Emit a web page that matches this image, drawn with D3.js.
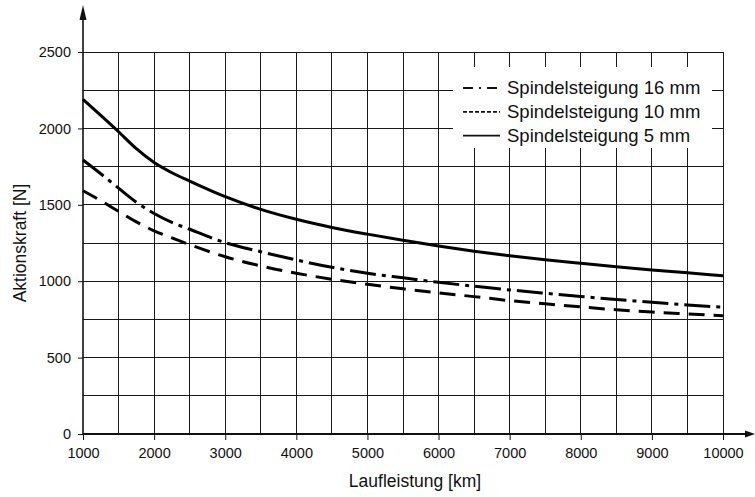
<!DOCTYPE html>
<html>
<head>
<meta charset="utf-8">
<script src="https://cdn.jsdelivr.net/npm/d3@7"></script>
<style>
  body { margin: 0; background: #fff; }
  text { font-family: "Liberation Sans", Arial, sans-serif; fill: #111; }
</style>
</head>
<body>
<svg id="chart" width="755" height="497"></svg>
<script>
// data
const laufleistung = [1000, 1250, 1500, 1750, 2000, 2250, 2500, 3000, 3500, 4000, 4500, 5000,
                      5500, 6000, 6500, 7000, 7500, 8000, 8500, 9000, 9500, 10000];
const kraft16mm = [1793, 1703, 1609, 1517, 1443, 1385, 1340, 1252, 1193, 1139, 1091, 1052,
                   1022, 993, 967, 943, 921, 900, 880, 862, 845, 829];
const kraft10mm = [1592, 1527, 1457, 1388, 1330, 1283, 1239, 1160, 1100, 1052, 1013, 980,
                   950, 923, 899, 873, 852, 832, 813, 798, 786, 774];
const kraft5mm = [2190, 2085, 1978, 1867, 1777, 1710, 1655, 1553, 1470, 1405, 1352, 1308,
                  1268, 1230, 1196, 1166, 1140, 1117, 1095, 1074, 1055, 1036];
const xTicks = [1000, 2000, 3000, 4000, 5000, 6000, 7000, 8000, 9000, 10000];
const yTicks = [0, 500, 1000, 1500, 2000, 2500];
const legendLabels = ["Spindelsteigung 16 mm", "Spindelsteigung 10 mm", "Spindelsteigung 5 mm"];

const svg = d3.select("#chart");

const x = d3.scaleLinear().domain([1000, 10000]).range([83, 723]);
const y = d3.scaleLinear().domain([0, 2500]).range([434, 52]);

// grid
const grid = svg.append("g")
  .attr("stroke", "#1a1a1a")
  .attr("stroke-width", 1)
  .attr("shape-rendering", "crispEdges");

grid.selectAll("line.v")
  .data(d3.range(1500, 10001, 500))
  .join("line")
    .attr("class", "v")
    .attr("x1", d => x(d)).attr("x2", d => x(d))
    .attr("y1", y(0)).attr("y2", y(2500));

grid.selectAll("line.h")
  .data(d3.range(250, 2501, 250))
  .join("line")
    .attr("class", "h")
    .attr("x1", x(1000)).attr("x2", x(10000))
    .attr("y1", d => y(d)).attr("y2", d => y(d));

// axes (ticks + labels), domain drawn separately with arrows
svg.append("g")
  .attr("transform", `translate(0,${y(0)})`)
  .call(d3.axisBottom(x).tickValues(xTicks).tickSize(6).tickPadding(8).tickFormat(d3.format("d")))
  .call(g => g.select(".domain").remove())
  .call(g => g.selectAll("line").attr("stroke", "#111"))
  .call(g => g.selectAll("text").attr("font-size", "14.5px").attr("font-family", null));

svg.append("g")
  .attr("transform", `translate(${x(1000)},0)`)
  .call(d3.axisLeft(y).tickValues(yTicks).tickSize(5).tickPadding(7).tickFormat(d3.format("d")))
  .call(g => g.select(".domain").remove())
  .call(g => g.selectAll("line").attr("stroke", "#111"))
  .call(g => g.selectAll("text").attr("font-size", "14.5px").attr("font-family", null));

// axis lines with arrow heads
svg.append("line")
  .attr("x1", x(1000)).attr("x2", 750)
  .attr("y1", y(0)).attr("y2", y(0))
  .attr("stroke", "#111").attr("stroke-width", 2);
svg.append("path")
  .attr("d", `M755,${y(0)} L745,${y(0) - 3.5} L745,${y(0) + 3.5} Z`)
  .attr("fill", "#111");

svg.append("line")
  .attr("x1", x(1000)).attr("x2", x(1000))
  .attr("y1", y(0)).attr("y2", 12)
  .attr("stroke", "#111").attr("stroke-width", 1.6);
svg.append("path")
  .attr("d", `M${x(1000)},5 L${x(1000) - 3.5},20 L${x(1000) + 3.5},20 Z`)
  .attr("fill", "#111");

// legend box
const legend = svg.append("g");
legend.append("rect")
  .attr("x", 453).attr("y", 67)
  .attr("width", 259).attr("height", 81)
  .attr("fill", "#fff");

const legendDash = ["10,6,2,6", "4,2", null];
legendLabels.forEach((label, i) => {
  const yy = 94 + i * 23.8;
  legend.append("line")
    .attr("x1", 463).attr("x2", 500)
    .attr("y1", yy - 6).attr("y2", yy - 6)
    .attr("stroke", "#111").attr("stroke-width", 1.8)
    .attr("stroke-dasharray", legendDash[i]);
  legend.append("text")
    .attr("x", 507).attr("y", yy)
    .attr("font-size", "18.5px")
    .text(label);
});

// curves
const line = d3.line()
  .x(d => x(d[0]))
  .y(d => y(d[1]))
  .curve(d3.curveMonotoneX);

const series = [
  { values: kraft16mm, dash: "26,6,4,6" },
  { values: kraft10mm, dash: "16,9" },
  { values: kraft5mm, dash: null }
];

svg.append("g")
  .selectAll("path")
  .data(series)
  .join("path")
    .attr("d", s => line(d3.zip(laufleistung, s.values)))
    .attr("fill", "none")
    .attr("stroke", "#000")
    .attr("stroke-width", 3)
    .attr("stroke-dasharray", s => s.dash);

// axis titles
svg.append("text")
  .attr("x", 415).attr("y", 487)
  .attr("text-anchor", "middle")
  .attr("font-size", "17.5px")
  .text("Laufleistung [km]");

svg.append("text")
  .attr("transform", `translate(26,${(y(0) + y(2500)) / 2}) rotate(-90)`)
  .attr("text-anchor", "middle")
  .attr("font-size", "17.5px")
  .text("Aktionskraft [N]");
</script>
</body>
</html>
